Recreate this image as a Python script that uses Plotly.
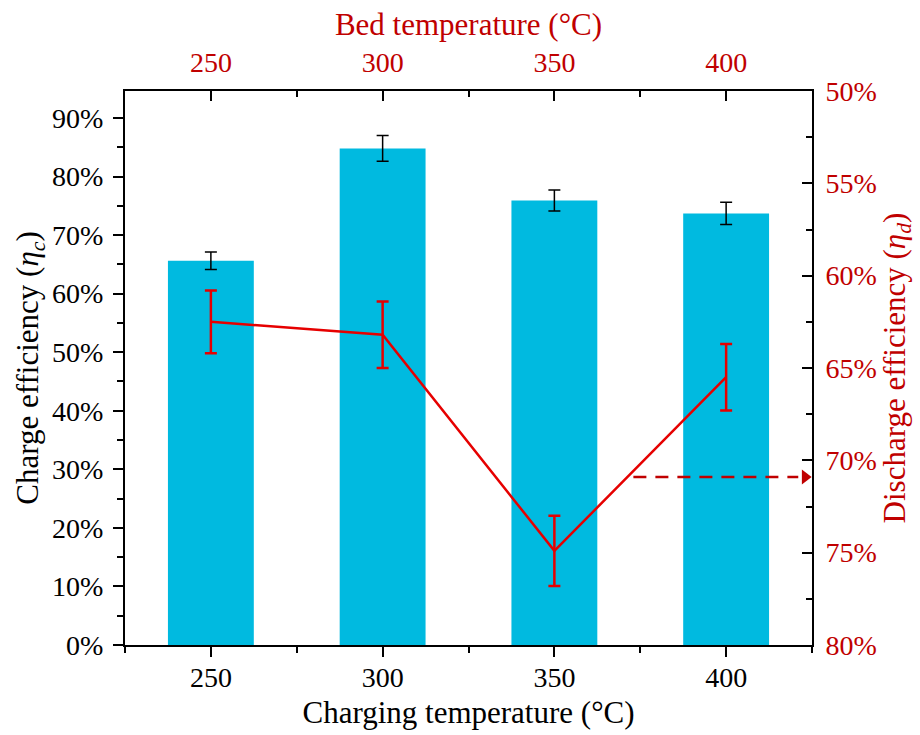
import plotly.graph_objects as go

# Charging / bed temperatures (°C)
temps = [250, 300, 350, 400]

# Charge efficiency (bars, left axis) with error
charge_eff = [0.656, 0.848, 0.759, 0.737]
charge_err = [0.015, 0.022, 0.018, 0.019]

# Discharge efficiency (line, right reversed axis) with error
discharge_eff = [0.625, 0.632, 0.749, 0.655]
discharge_err = [0.017, 0.018, 0.019, 0.018]

# Dashed pointer towards the discharge axis
pointer_x = [373, 421]
pointer_y = [0.709, 0.709]
pointer_tip_x = 423

FONT = "Liberation Serif"
DARK_RED = "#C00000"
LINE_RED = "#E60000"
BAR_BLUE = "#00BAE0"

fig = go.Figure()

fig.add_trace(go.Bar(
    x=temps, y=charge_eff, width=25,
    marker=dict(color=BAR_BLUE, line=dict(width=0)),
    error_y=dict(type="data", array=charge_err, color="black", thickness=1.5, width=6),
    xaxis="x", yaxis="y", showlegend=False,
))

fig.add_trace(go.Scatter(
    x=temps, y=discharge_eff, mode="lines",
    line=dict(color=LINE_RED, width=2.5),
    error_y=dict(type="data", array=discharge_err, color=LINE_RED, thickness=2.5, width=6),
    xaxis="x2", yaxis="y2", showlegend=False, cliponaxis=False,
))

fig.add_trace(go.Scatter(
    x=pointer_x, y=pointer_y, mode="lines",
    line=dict(color=DARK_RED, width=2.5, dash="13px,9px"),
    xaxis="x2", yaxis="y2", showlegend=False,
))

fig.add_trace(go.Scatter(
    x=[pointer_tip_x], y=[pointer_y[1]], mode="markers",
    marker=dict(symbol="triangle-right", size=13, color=DARK_RED, line=dict(width=0)),
    xaxis="x2", yaxis="y2", showlegend=False, cliponaxis=False,
))

axis_common = dict(showline=True, linecolor="black", linewidth=2, mirror=False,
                   showgrid=False, zeroline=False, automargin=False)

TICK_SIZE = 28
TITLE_SIZE = 31

fig.update_layout(
    width=920, height=735,
    margin=dict(l=125, r=108, t=91, b=90, autoexpand=False),
    plot_bgcolor="white", paper_bgcolor="white",
    font=dict(family=FONT, size=TICK_SIZE, color="black"),
    xaxis=dict(
        **axis_common, range=[225, 425], tickvals=temps, ticks="outside",
        ticklen=10, tickwidth=2, tickcolor="black",
        minor=dict(tickvals=[225, 275, 325, 375, 425], ticks="outside", ticklen=6, tickwidth=2, tickcolor="black"),
        ticklabelstandoff=-4,
        title=dict(text="Charging temperature (°C)", font=dict(size=TITLE_SIZE), standoff=10),
    ),
    xaxis2=dict(
        **axis_common, range=[225, 425], overlaying="x", side="top", anchor="y",
        tickvals=temps, ticks="inside", ticklen=10, tickwidth=2, tickcolor="black",
        minor=dict(tickvals=[225, 275, 325, 375, 425], ticks="inside", ticklen=6, tickwidth=2, tickcolor="black"),
        tickfont=dict(color=DARK_RED), ticklabelstandoff=6,
        title=dict(text="Bed temperature (°C)", font=dict(size=TITLE_SIZE, color=DARK_RED), standoff=2),
    ),
    yaxis=dict(
        **axis_common, range=[0, 0.946], tickformat=".0%", dtick=0.1, tick0=0,
        ticks="outside", ticklen=10, tickwidth=2, tickcolor="black",
        minor=dict(dtick=0.05, ticks="outside", ticklen=6, tickwidth=2, tickcolor="black"),
        ticklabelstandoff=4,
        title=dict(text="Charge efficiency (<i>η</i><sub><i>c</i></sub>)", font=dict(size=TITLE_SIZE), standoff=4),
    ),
    yaxis2=dict(
        **axis_common, range=[0.80, 0.50], tickformat=".0%", dtick=0.05, tick0=0.5,
        overlaying="y", side="right", anchor="x",
        ticks="inside", ticklen=10, tickwidth=2, tickcolor="black",
        minor=dict(dtick=0.025, ticks="inside", ticklen=6, tickwidth=2, tickcolor="black"),
        tickfont=dict(color=DARK_RED), ticklabelstandoff=6,
        title=dict(text="Discharge efficiency (<i>η</i><sub><i>d</i></sub>)", font=dict(size=TITLE_SIZE, color=DARK_RED), standoff=2),
    ),
)

fig.write_html("out.html")
